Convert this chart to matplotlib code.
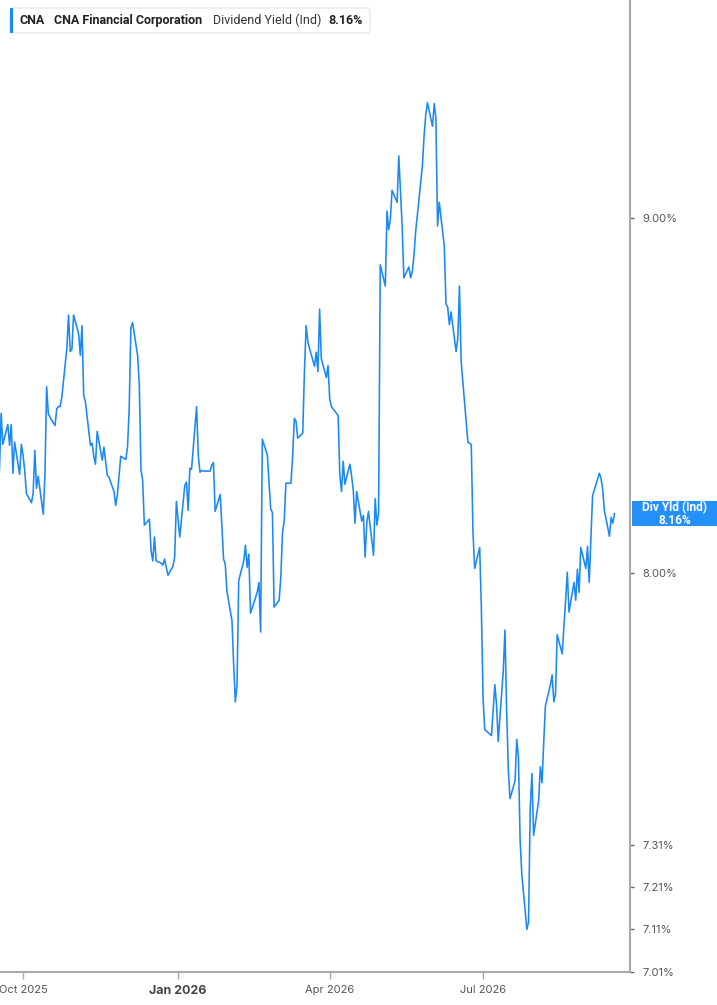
import numpy as np
import pandas as pd
import matplotlib
matplotlib.use("Agg")
import matplotlib.pyplot as plt
import matplotlib.dates as mdates
from matplotlib.patches import FancyBboxPatch, Rectangle
from matplotlib.ticker import FixedLocator, NullLocator

plt.rcParams["font.family"] = ["Inter", "DejaVu Sans"]

# daily dividend yield (indicated), percent, one value per trading day
yield_pct = [
    8.278, 8.436, 8.350, 8.405, 8.347, 8.405, 8.270, 8.356, 8.267, 8.350,
    8.320, 8.278, 8.215, 8.190, 8.215, 8.333, 8.229, 8.262, 8.158, 8.265,
    8.511, 8.436, 8.425, 8.402, 8.449, 8.455, 8.455, 8.480, 8.620, 8.716,
    8.611, 8.617, 8.716, 8.662, 8.600, 8.685, 8.486, 8.469, 8.347, 8.353,
    8.317, 8.295, 8.386, 8.306, 8.342, 8.303, 8.265, 8.259, 8.220, 8.182,
    8.212, 8.317, 8.308, 8.342, 8.449, 8.679, 8.694, 8.600, 8.517, 8.278,
    8.251, 8.129, 8.145, 8.060, 8.033, 8.097, 8.033, 8.027, 8.022, 8.038,
    7.995, 8.019, 8.043, 8.193, 8.097, 8.237, 8.246, 8.169, 8.284, 8.281,
    8.455, 8.320, 8.273, 8.278, 8.276, 8.276, 8.292, 8.300, 8.166, 8.212,
    8.129, 8.038, 8.025, 7.953, 7.875, 7.761, 7.666, 7.710, 7.981, 8.033,
    8.075, 8.016, 8.051, 7.895, 7.950, 7.976, 7.846, 8.364, 8.320, 8.243,
    8.172, 8.163, 7.911, 7.929, 7.992, 8.110, 8.140, 8.243, 8.243, 8.317,
    8.422, 8.414, 8.367, 8.381, 8.554, 8.685, 8.640, 8.620, 8.569, 8.609,
    8.554, 8.733, 8.591, 8.537, 8.571, 8.477, 8.455, 8.430, 8.265, 8.220,
    8.303, 8.240, 8.295, 8.262, 8.223, 8.134, 8.220, 8.140, 8.155, 8.043,
    8.134, 8.166, 8.048, 8.201, 8.129, 8.161, 8.862, 8.800, 9.022, 8.966,
    8.998, 9.084, 9.048, 9.188, 9.078, 8.975, 8.824, 8.856, 8.824, 8.842,
    8.889, 8.960, 9.158, 9.249, 9.315, 9.352, 9.279, 9.349, 9.306, 8.977,
    9.048, 8.918, 8.748, 8.739, 8.688, 8.725, 8.611, 8.648, 8.800, 8.583,
    8.356, 8.353, 8.350, 8.113, 8.013, 8.069, 7.908, 7.676, 7.596, 7.581,
    7.644, 7.710, 7.659, 7.566, 7.746, 7.851, 7.644, 7.496, 7.424, 7.468,
    7.571, 7.526, 7.322, 7.240, 7.109, 7.126, 7.402, 7.486, 7.334, 7.419,
    7.503, 7.463, 7.563, 7.656, 7.710, 7.735, 7.666, 7.686, 7.839, 7.789,
    7.862, 7.929, 8.003, 7.898, 7.976, 7.929, 8.011, 7.950, 8.069, 8.013,
    8.072, 7.976, 8.088, 8.209, 8.270, 8.256, 8.226, 8.169, 8.099, 8.150,
    8.134, 8.160,
]
market_holidays = [
    "2025-11-27", "2025-12-25", "2026-01-01", "2026-01-19", "2026-02-16",
    "2026-04-03", "2026-05-25", "2026-06-19", "2026-07-03", "2026-09-07",
]
dates = pd.bdate_range(start="2025-09-17", periods=len(yield_pct),
                       freq="C", holidays=market_holidays)

y_ticks = [7.01, 7.11, 7.21, 7.31, 8.00, 9.00]
x_ticks = ["2025-10-01", "2026-01-01", "2026-04-01", "2026-07-01"]
x_labels = ["Oct 2025", "Jan 2026", "Apr 2026", "Jul 2026"]

ticker = "CNA"
company = "CNA Financial Corporation"
metric = "Dividend Yield (Ind)"
last_txt = f"{yield_pct[-1]:.2f}%"

LINE = "#1a88f5"
AXIS = "#a9a9a9"
TXT = "#555555"
ROBOTO = ["Roboto", "DejaVu Sans"]

W, H = 717, 1005
fig = plt.figure(figsize=(W / 100, H / 100), dpi=100)
ax = fig.add_axes([0, (H - 972) / H, 630 / W, 972 / H])

ax.plot(dates, yield_pct, color=LINE, lw=1.15)
ax.set_yscale("log")
ax.set_ylim(7.009, 9.676)
ax.set_xlim(pd.Timestamp("2025-09-17 08:00"), pd.Timestamp("2026-09-26 05:00"))

ax.yaxis.tick_right()
ax.yaxis.set_major_locator(FixedLocator(y_ticks))
ax.yaxis.set_minor_locator(NullLocator())
ax.set_yticklabels([f"{v:.2f}%" for v in y_ticks])
ax.tick_params(axis="y", which="major", length=3, width=1, color="#666666",
               labelsize=8, labelcolor=TXT, pad=6)

ax.set_xticks([mdates.date2num(pd.Timestamp(d)) for d in x_ticks])
ax.set_xticklabels(x_labels)
ax.tick_params(axis="x", length=5, width=1, color=AXIS, labelsize=8,
               labelcolor=TXT, pad=4)
for lab in ax.get_xticklabels():
    if lab.get_text() == "Jan 2026":
        lab.set_fontweight("bold")
        lab.set_color("#444444")
        lab.set_fontsize(9)

for side in ("left", "top"):
    ax.spines[side].set_visible(False)
for side in ("right", "bottom"):
    ax.spines[side].set_color(AXIS)
    ax.spines[side].set_linewidth(1.5)

# last value tag on the right axis
fig.canvas.draw()
tag_y = ax.transData.transform((mdates.date2num(dates[-1]), yield_pct[-1]))[1]
fig.patches.append(Rectangle((632 / W, (tag_y - 12.5) / H), 86 / W, 25 / H,
                             transform=fig.transFigure, fc="#2590f7",
                             ec="none"))
fig.text(674.5 / W, tag_y / H, f"Div Yld (Ind)\n{last_txt}",
         ha="center", va="center", color="white", fontsize=8.6,
         fontweight="bold", linespacing=0.95, family=ROBOTO)

# legend box at top left
box = FancyBboxPatch((10 / W, 1 - 33 / H), 360 / W, 25 / H,
                     boxstyle="round,pad=0,rounding_size=0.004",
                     transform=fig.transFigure, fc="white", ec="#e3e3e3",
                     lw=0.8)
fig.patches.append(box)
fig.patches.append(Rectangle((10 / W, 1 - 33 / H), 3 / W, 25 / H,
                             transform=fig.transFigure, fc="#1a88f5",
                             ec="none"))
ty = 1 - 20.5 / H
fig.text(20 / W, ty, ticker, fontsize=9, fontweight="bold",
         color="#222222", va="center", family=ROBOTO)
fig.text(54 / W, ty, company, fontsize=9, fontweight="bold",
         color="#222222", va="center", family=ROBOTO)
fig.text(213 / W, ty, metric, fontsize=9, color="#333333", va="center",
         family=ROBOTO)
fig.text(328 / W, ty, last_txt, fontsize=9, fontweight="bold",
         color="#222222", va="center", family=ROBOTO)

fig.savefig("out.png", dpi=100)
